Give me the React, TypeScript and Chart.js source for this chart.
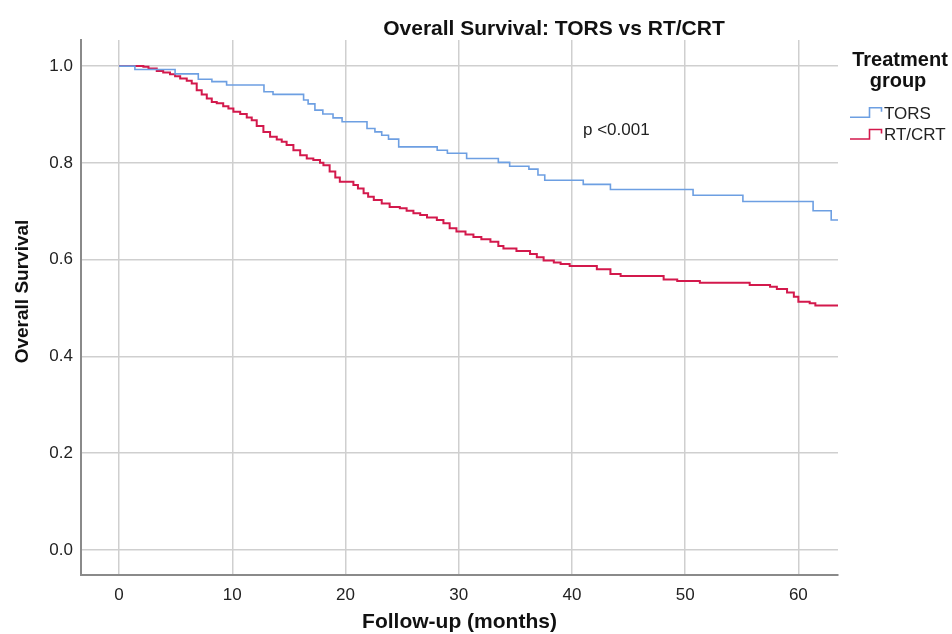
import React, { useEffect, useRef } from "react";
import { Chart, registerables } from "chart.js";

Chart.register(...registerables);

const FONT = '"Liberation Sans", Arial, Helvetica, sans-serif';

const chartTitle = "Overall Survival: TORS vs RT/CRT";
const xTitle = "Follow-up (months)";
const yTitle = "Overall Survival";
const legendTitle = ["Treatment", "group"];
const seriesNames = ["TORS", "RT/CRT"];
const pValueText = "p <0.001";

const xTicks = [0, 10, 20, 30, 40, 50, 60];
const yTicks = [0, 0.2, 0.4, 0.6, 0.8, 1.0];

const torsTime = [0, 1.4, 4.95, 7.0, 8.2, 9.5, 12.8, 13.6, 16.3, 16.7, 17.3, 18.0, 18.9, 19.7, 21.9, 22.6, 23.2, 23.8, 24.7, 28.1, 29.0, 30.7, 33.5, 34.5, 36.2, 37.0, 37.6, 41.0, 43.4, 50.7, 55.1, 61.3, 62.9, 63.5];
const torsSurv = [1.0, 0.993, 0.984, 0.973, 0.968, 0.961, 0.947, 0.9415, 0.93, 0.922, 0.909, 0.901, 0.893, 0.885, 0.871, 0.864, 0.857, 0.849, 0.833, 0.826, 0.82, 0.809, 0.801, 0.793, 0.787, 0.775, 0.764, 0.7555, 0.745, 0.733, 0.72, 0.701, 0.682, 0.682];

const rtTime = [0, 2.15, 2.6, 3.33, 3.9, 4.5, 4.95, 5.4, 5.98, 6.42, 6.86, 7.3, 7.75, 8.19, 8.63, 9.2, 9.66, 10.1, 10.7, 11.28, 11.72, 12.16, 12.75, 13.34, 13.93, 14.37, 14.8, 15.4, 16.0, 16.58, 17.16, 17.75, 18.05, 18.6, 19.1, 19.5, 20.7, 21.1, 21.6, 22.0, 22.5, 23.2, 23.9, 24.8, 25.4, 26.0, 26.6, 27.2, 28.07, 28.65, 29.2, 29.8, 30.6, 31.3, 32.0, 32.8, 33.5, 33.95, 35.1, 36.3, 36.9, 37.5, 38.4, 39.0, 39.8, 42.2, 43.4, 44.3, 48.1, 49.3, 51.3, 55.7, 57.5, 58.1, 59.0, 59.6, 60.0, 61.0, 61.5, 63.5];
const rtSurv = [1.0, 0.9986, 0.995, 0.99, 0.987, 0.983, 0.979, 0.9745, 0.97, 0.964, 0.95, 0.9415, 0.933, 0.926, 0.923, 0.917, 0.9125, 0.9056, 0.901, 0.894, 0.888, 0.876, 0.864, 0.854, 0.8485, 0.8436, 0.837, 0.826, 0.816, 0.809, 0.806, 0.8, 0.795, 0.782, 0.77, 0.761, 0.754, 0.747, 0.737, 0.73, 0.723, 0.716, 0.709, 0.706, 0.701, 0.696, 0.692, 0.687, 0.682, 0.675, 0.665, 0.658, 0.652, 0.647, 0.642, 0.637, 0.628, 0.623, 0.618, 0.6116, 0.605, 0.598, 0.594, 0.591, 0.587, 0.58, 0.57, 0.566, 0.559, 0.556, 0.552, 0.5475, 0.544, 0.539, 0.532, 0.523, 0.513, 0.51, 0.505, 0.505];

const seriesColors = ["#6d9fe2", "#d3194c"];

const textPlugin = {
  id: "kmTexts",
  afterDraw(chart: any) {
    const ctx = chart.ctx as CanvasRenderingContext2D;
    const ca = chart.chartArea;
    ctx.save();
    ctx.fillStyle = "#111";
    // main title
    ctx.font = `bold 21px ${FONT}`;
    ctx.textAlign = "center";
    ctx.textBaseline = "alphabetic";
    ctx.fillText(chartTitle, 554, 35);
    // x title
    ctx.fillText(xTitle, (ca.left + ca.right) / 2, 628);
    // y title
    ctx.save();
    ctx.font = `bold 19px ${FONT}`;
    ctx.translate(28, 291.5);
    ctx.rotate(-Math.PI / 2);
    ctx.fillText(yTitle, 0, 0);
    ctx.restore();
    // legend title
    ctx.font = `bold 20px ${FONT}`;
    ctx.fillText(legendTitle[0], 900, 66);
    ctx.fillText(legendTitle[1], 898, 87);
    // legend items
    const items = [
      { low: 117.3, top: 107.8, textY: 114.5 },
      { low: 139, top: 129.5, textY: 135.5 },
    ];
    items.forEach((it, i) => {
      ctx.strokeStyle = seriesColors[i];
      ctx.lineWidth = 1.6;
      ctx.beginPath();
      ctx.moveTo(850, it.low);
      ctx.lineTo(869.5, it.low);
      ctx.lineTo(869.5, it.top);
      ctx.lineTo(881.5, it.top);
      ctx.lineTo(881.5, it.top + 4);
      ctx.stroke();
      ctx.fillStyle = "#222";
      ctx.font = `17px ${FONT}`;
      ctx.textAlign = "left";
      ctx.textBaseline = "middle";
      ctx.fillText(seriesNames[i], 884, it.textY);
    });
    // p-value
    ctx.fillStyle = "#222";
    ctx.font = `17px ${FONT}`;
    ctx.textAlign = "left";
    ctx.textBaseline = "alphabetic";
    ctx.fillText(pValueText, 583, 135);
    ctx.restore();
  },
};

export default function App() {
  const ref = useRef<HTMLCanvasElement | null>(null);
  useEffect(() => {
    if (!ref.current) return;
    const chart = new Chart(ref.current, {
      type: "line",
      data: {
        datasets: [
          {
            label: seriesNames[0],
            data: torsTime.map((t, i) => ({ x: t, y: torsSurv[i] })),
            borderColor: seriesColors[0],
            borderWidth: 1.6,
            pointRadius: 0,
            stepped: "before",
            fill: false,
          },
          {
            label: seriesNames[1],
            data: rtTime.map((t, i) => ({ x: t, y: rtSurv[i] })),
            borderColor: seriesColors[1],
            borderWidth: 2,
            pointRadius: 0,
            stepped: "before",
            fill: false,
          },
        ],
      },
      options: {
        animation: false,
        responsive: false,
        maintainAspectRatio: false,
        layout: { padding: { top: 40, right: 114, left: 0, bottom: 0 } },
        plugins: {
          legend: { display: false },
          title: { display: false },
          tooltip: { enabled: false },
        },
        scales: {
          x: {
            type: "linear",
            min: -3.36,
            max: 63.5,
            afterBuildTicks: (s: any) => {
              s.ticks = xTicks.map((v) => ({ value: v }));
            },
            afterFit: (s: any) => {
              s.height = 59;
            },
            grid: { color: "#cfcfcf", lineWidth: 1.5, drawTicks: false },
            border: { display: true, color: "#8a8a8a", width: 2 },
            ticks: {
              padding: 10,
              color: "#222",
              font: { family: FONT, size: 17 },
              maxRotation: 0,
              callback: (v: any) => String(v),
            },
          },
          y: {
            type: "linear",
            min: -0.052,
            max: 1.054,
            afterBuildTicks: (s: any) => {
              s.ticks = yTicks.map((v) => ({ value: v }));
            },
            afterFit: (s: any) => {
              s.width = 81;
            },
            grid: { color: "#cfcfcf", lineWidth: 1.5, drawTicks: false },
            border: { display: true, color: "#8a8a8a", width: 2 },
            ticks: {
              padding: 8,
              color: "#222",
              font: { family: FONT, size: 17 },
              callback: (v: any) => Number(v).toFixed(1),
            },
          },
        },
      },
      plugins: [textPlugin],
    });
    return () => chart.destroy();
  }, []);
  return (
    <div style={{ position: "fixed", left: 0, top: 0, width: 952, height: 634, background: "#fff" }}>
      <canvas ref={ref} width={952} height={634} style={{ display: "block", width: 952, height: 634 }} />
    </div>
  );
}
